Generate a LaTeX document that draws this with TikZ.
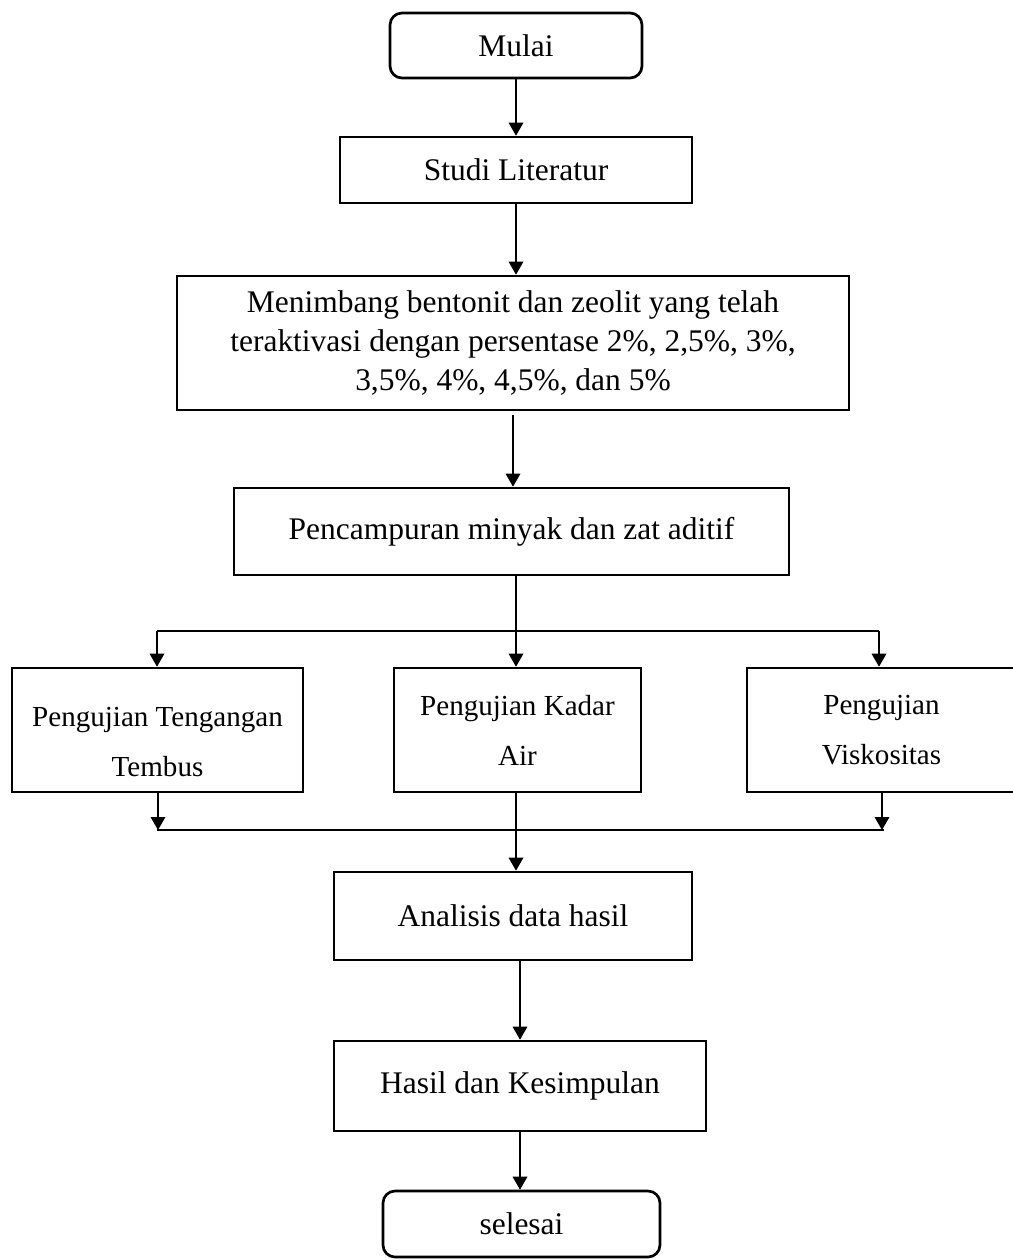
\documentclass[tikz,border=0pt]{standalone}
\usepackage{fontspec}
\setmainfont{Liberation Serif}
\usetikzlibrary{arrows.meta}
\tikzset{
  box/.style={draw, line width=2pt, rectangle, align=center, inner sep=0pt,
    font=\fontsize{23.6pt}{28.9pt}\selectfont},
  term/.style={box, rounded corners=9pt},
  testbox/.style={box, font=\fontsize{21.8pt}{37.5pt}\selectfont},
  conn/.style={line width=1pt},
  arr/.style={conn, -{Triangle[length=9.75pt,width=11pt]}}
}
\begin{document}
\begin{tikzpicture}[x=0.75pt,y=-0.75pt]
\clip (0,0) rectangle (1013,1260);
\useasboundingbox (0,0) rectangle (1013,1260);
\fill[white] (0,0) rectangle (1013,1260);

\node[term, minimum width=189pt, minimum height=48.75pt] (mulai) at (516,45.5) {Mulai};
\node[box, minimum width=264pt, minimum height=49.5pt] (studi) at (516,170) {Studi Literatur};
\node[box, minimum width=504pt, minimum height=100.5pt] (timbang) at (513,343)
  {Menimbang bentonit dan zeolit yang telah\\teraktivasi dengan persentase 2\%, 2,5\%, 3\%,\\3,5\%, 4\%, 4,5\%, dan 5\%};
\node[box, minimum width=416.25pt, minimum height=65.25pt] (campur) at (511.5,531.5) {Pencampuran minyak dan zat aditif};
\node[testbox, minimum width=218.25pt, minimum height=93pt] (t1) at (157.5,730) {\rule{0pt}{33pt}Pengujian Tengangan\\Tembus};
\node[testbox, minimum width=185.25pt, minimum height=93pt] (t2) at (517.5,730) {Pengujian Kadar\\Air};
\node[testbox, minimum width=201.75pt, minimum height=93pt] (t3) at (881.5,730) {Pengujian\\Viskositas};
\node[box, minimum width=268.5pt, minimum height=66pt] (analisis) at (513,916) {Analisis data hasil};
\node[box, minimum width=279pt, minimum height=67.5pt] (hasil) at (520,1086) {Hasil dan Kesimpulan};
\node[term, minimum width=207.75pt, minimum height=49.5pt] (selesai) at (521.5,1224) {selesai};

\coordinate (sm) at (516,631);
\coordinate (sl) at (157,631);
\coordinate (sr) at (879,631);
\coordinate (jl) at (157,830);
\coordinate (jla) at (158,830);
\coordinate (jm) at (516,830);
\coordinate (jr) at (884,830);
\coordinate (jra) at (882,830);

\draw[arr] (mulai.south) -- (studi.north);
\draw[arr] (studi.south) -- (studi.south |- timbang.north);
\draw[arr] ([yshift=-3pt]timbang.south) -- (timbang.south |- campur.north);
\draw[conn] (campur.south -| sm) -- (sm);
\draw[conn] (sl) -- (sr);
\draw[arr] (sl) -- (sl |- t1.north);
\draw[arr] (sm) -- (sm |- t2.north);
\draw[arr] (sr) -- (sr |- t3.north);
\draw[arr] (t1.south -| jla) -- (jla);
\draw[arr] (t3.south -| jra) -- (jra);
\draw[conn] (jl) -- (jr);
\draw[arr] (t2.south -| jm) -- (jm |- analisis.north);
\draw[arr] (analisis.south -| hasil.north) -- (hasil.north);
\draw[arr] (hasil.south) -- (hasil.south |- selesai.north);
\end{tikzpicture}
\end{document}
